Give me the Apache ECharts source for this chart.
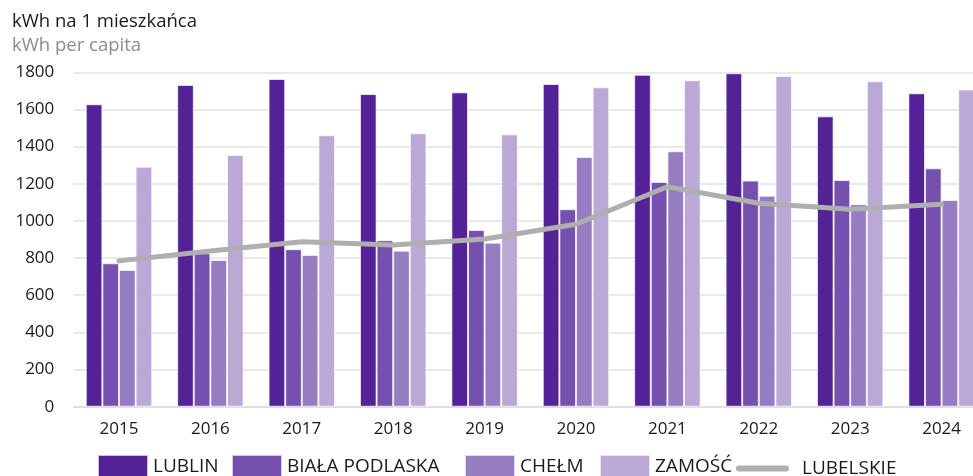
<!DOCTYPE html>
<html>
<head>
<meta charset="utf-8">
<script src="https://cdn.jsdelivr.net/npm/echarts@6/dist/echarts.min.js"></script>
<style>
html,body{margin:0;padding:0;background:#fff;}
#chart{width:973px;height:476px;}
</style>
</head>
<body>
<div id="chart"></div>
<script>
const years = ['2015','2016','2017','2018','2019','2020','2021','2022','2023','2024'];
const lublin = [1628, 1732, 1764, 1683, 1692, 1737, 1787, 1795, 1563, 1687];
const bialaPodlaska = [772, 826, 848, 896, 951, 1063, 1210, 1217, 1220, 1283];
const chelm = [736, 790, 817, 840, 883, 1344, 1375, 1136, 1090, 1113];
const zamosc = [1292, 1355, 1461, 1472, 1466, 1719, 1757, 1780, 1752, 1708];
const lubelskie = [785, 838, 888, 870, 903, 982, 1184, 1095, 1063, 1090];
const seriesNames = ['LUBLIN', 'BIAŁA PODLASKA', 'CHEŁM', 'ZAMOŚĆ', 'LUBELSKIE'];
const yTicks = {min: 0, max: 1800, interval: 200};

const colors = ['#522296', '#7550ae', '#967cc0', '#baa8d6', '#afafaf'];
const font = 'Open Sans';
const chart = echarts.init(document.getElementById('chart'));

function barSeries(name, data, color) {
  return {
    name: name, type: 'bar', data: data,
    barGap: '0%', barCategoryGap: '27.3%',
    itemStyle: {color: color, borderColor: 'rgba(255,255,255,0.7)', borderWidth: 1},
    z: 2
  };
}
const legendLefts = [97, 231, 464, 599];
const legends = seriesNames.slice(0, 4).map((n, i) => ({
  data: [n], left: legendLefts[i], top: 454, padding: 0,
  itemWidth: 50, itemHeight: 24, icon: 'rect',
  textStyle: {fontFamily: font, fontSize: 19, color: '#1a1a1a'},
  selectedMode: false
}));
legends.push({
  data: [{name: seriesNames[4], icon: 'path://M3,0 L50,0 A3,3 0 0 1 50,6 L3,6 A3,3 0 0 1 3,0 Z'}],
  left: 736, top: 459, padding: 0, itemWidth: 53, itemHeight: 6,
  textStyle: {fontFamily: font, fontSize: 19, color: '#1a1a1a', padding: [0, 0, 0, 8]},
  selectedMode: false
});

chart.setOption({
  animation: false,
  title: {
    text: 'kWh na 1 mieszkańca',
    subtext: 'kWh per capita',
    left: 12, top: 10, padding: 0, itemGap: 0,
    textStyle: {fontFamily: font, fontSize: 18.5, fontWeight: 'normal', color: '#1a1a1a', lineHeight: 24},
    subtextStyle: {fontFamily: font, fontSize: 18.5, color: '#8c8c8c', lineHeight: 24}
  },
  legend: legends,
  grid: {left: 73.3, top: 72.3, width: 914, height: 334.4, outerBoundsMode: 'none'},
  xAxis: {
    type: 'category', data: years,
    axisLine: {show: true, lineStyle: {color: '#dcdcdc', width: 1.5}},
    axisTick: {show: false},
    axisLabel: {fontFamily: font, fontSize: 17, color: '#1a1a1a', margin: 14}
  },
  yAxis: {
    type: 'value', min: yTicks.min, max: yTicks.max, interval: yTicks.interval,
    axisLine: {show: false}, axisTick: {show: false},
    splitLine: {lineStyle: {color: '#e2e2e2', width: 1.5}},
    axisLabel: {fontFamily: font, fontSize: 17, color: '#1a1a1a', margin: 19, formatter: v => String(v)}
  },
  series: [
    barSeries(seriesNames[0], lublin, colors[0]),
    barSeries(seriesNames[1], bialaPodlaska, colors[1]),
    barSeries(seriesNames[2], chelm, colors[2]),
    barSeries(seriesNames[3], zamosc, colors[3]),
    {
      name: seriesNames[4], type: 'line', data: lubelskie,
      symbol: 'none', showSymbol: false,
      lineStyle: {color: colors[4], width: 5, cap: 'round', join: 'round'},
      itemStyle: {color: colors[4]},
      z: 5
    }
  ]
});
</script>
</body>
</html>
